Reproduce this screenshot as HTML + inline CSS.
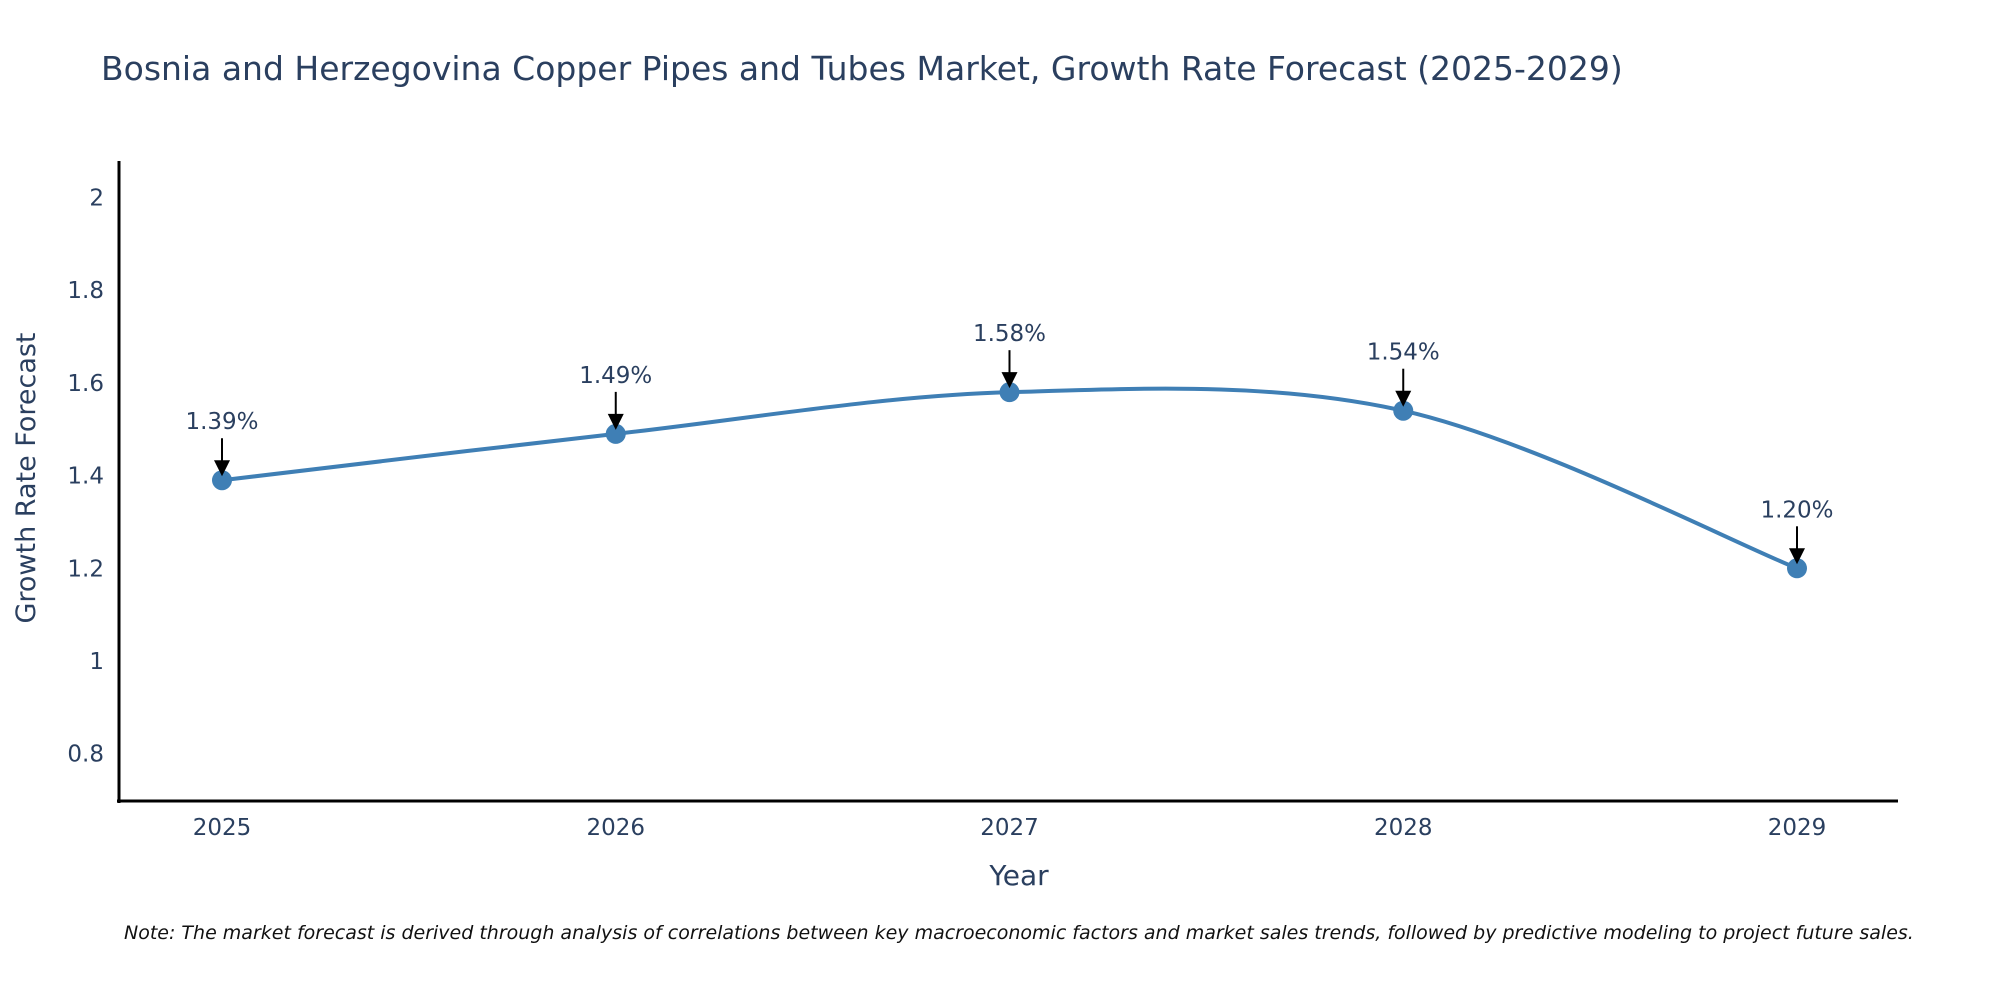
<!DOCTYPE html>
<html><head><meta charset="utf-8"><style>
body{margin:0;background:#fff}
svg text{font-family:"DejaVu Sans","Liberation Sans",sans-serif;fill:#2a3f5f}
</style></head><body>
<svg id="chart" width="2000" height="1000" xmlns="http://www.w3.org/2000/svg">
<text x="101" y="80" font-size="33">Bosnia and Herzegovina Copper Pipes and Tubes Market, Growth Rate Forecast (2025-2029)</text>
<g id="axes"></g>
<g id="series"></g>
<text x="1019" y="885" font-size="28" text-anchor="middle">Year</text>
<text transform="translate(35,478) rotate(-90)" font-size="27" text-anchor="middle">Growth Rate Forecast</text>
<text x="124" y="939" font-size="19" font-style="italic" style="fill:#111">Note: The market forecast is derived through analysis of correlations between key macroeconomic factors and market sales trends, followed by predictive modeling to project future sales.</text>
</svg>
<script>
const years=[2025,2026,2027,2028,2029];
const values=[1.39,1.49,1.58,1.54,1.20];
const labels=["1.39%","1.49%","1.58%","1.54%","1.20%"];
const yTicks=[0.8,1,1.2,1.4,1.6,1.8,2];
const NS="http://www.w3.org/2000/svg";
const X=v=>222+(v-2025)*393.75;
const Y=v=>661-(v-1)*463.5;
function mk(t,a,p){const e=document.createElementNS(NS,t);for(const k in a)e.setAttribute(k,a[k]);p.appendChild(e);return e;}
const axes=document.getElementById('axes'),ser=document.getElementById('series');
const yl=mk('line',{x1:119,y1:161,x2:119,y2:803,stroke:'#000','stroke-width':3},axes);


const xl=mk('line',{x1:117,y1:801,x2:1898,y2:801,stroke:'#000','stroke-width':3},axes);


yTicks.forEach(t=>{const e=mk('text',{x:104,y:Y(t)+8,'font-size':23,'text-anchor':'end'},axes);e.textContent=String(t);

});
years.forEach(y=>{const e=mk('text',{x:X(y),y:835,'font-size':23,'text-anchor':'middle'},axes);e.textContent=String(y);

});
const pts=years.map((y,i)=>[X(y),Y(values[i])]);
let d=`M${pts[0][0]},${pts[0][1]}`;const s=0.33;
for(let i=0;i<pts.length-1;i++){const p0=pts[Math.max(i-1,0)],p1=pts[i],p2=pts[i+1],p3=pts[Math.min(i+2,pts.length-1)];
d+=` C${p1[0]+(p2[0]-p0[0])*s/2},${p1[1]+(p2[1]-p0[1])*s/2} ${p2[0]-(p3[0]-p1[0])*s/2},${p2[1]-(p3[1]-p1[1])*s/2} ${p2[0]},${p2[1]}`;}
const ln=mk('path',{d:d,fill:'none',stroke:'#3f7fb5','stroke-width':4},ser);


pts.forEach((p,i)=>{const c=mk('circle',{cx:p[0],cy:p[1],r:10,fill:'#3f7fb5'},ser);


const a=mk('line',{x1:p[0],y1:p[1]-42,x2:p[0],y2:p[1]-16,stroke:'#000','stroke-width':2},ser);


const h=mk('polygon',{points:`${p[0]-8},${p[1]-20} ${p[0]+8},${p[1]-20} ${p[0]},${p[1]-4}`,fill:'#000'},ser);


const t=mk('text',{x:p[0],y:p[1]-51,'font-size':23,'text-anchor':'middle'},ser);t.textContent=labels[i];

});
</script>
</body></html>
